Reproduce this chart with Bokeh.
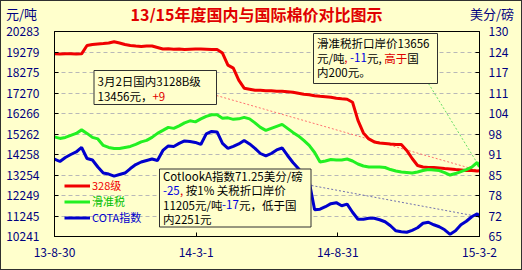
import pandas as pd
from bokeh.plotting import figure
from bokeh.layouts import column
from bokeh.models import (Range1d, LinearAxis, FixedTicker, Label, BoxAnnotation,
                          Legend, LegendItem, ColumnDataSource, Div)
from bokeh.embed import file_html
from bokeh.resources import INLINE

# ---------------- data ----------------
week_dates = list(pd.date_range("2013-08-30", periods=79, freq="7D")) + [pd.Timestamp("2015-03-02")]

red_328 = [19190, 19185, 19195, 19190, 19180, 19190, 19595, 19644, 19669, 19693,
           19718, 19782, 19718, 19644, 19595, 19570, 19546, 19570, 19570, 19497,
           19423, 19440, 19410, 19423, 19400, 19415, 19430, 19420, 19410, 19400,
           19398, 19226, 18636, 18488, 17898, 17505, 17456, 17407, 17407, 17382,
           17382, 17358, 17358, 17333, 17308, 17259, 17210, 17185, 17136, 17111,
           17087, 17062, 17013, 16988, 16964, 16816, 15931, 15316, 15021, 14874,
           14825, 14800, 14775, 14751, 14751, 14456, 14062, 13718, 13644, 13620,
           13620, 13595, 13570, 13546, 13521, 13497, 13472, 13472, 13447, 13456]

green_slide = [15120, 15046, 15095, 15193, 15292, 15464, 15292, 15095, 15021, 14702,
               14603, 14554, 14554, 14603, 14652, 14751, 14874, 14948, 15095, 15292,
               15439, 15587, 15538, 15661, 15808, 15907, 15857, 16005, 16128, 16202,
               16202, 16030, 16054, 15980, 16005, 16079, 16005, 15808, 15587, 15439,
               15538, 15636, 15734, 15538, 15341, 15169, 14948, 14702, 14357, 13890,
               13939, 14013, 13989, 13989, 14038, 13939, 13792, 13693, 13644, 13644,
               13644, 13620, 13521, 13448, 13398, 13374, 13349, 13398, 13472, 13521,
               13497, 13472, 13374, 13251, 13325, 13423, 13521, 13644, 13866, 13656]

blue_cota = [89.57, 88.78, 90.05, 91.00, 91.80, 93.23, 89.73, 89.25, 87.03, 85.12,
             84.80, 84.16, 84.64, 85.12, 86.55, 87.82, 88.62, 89.10, 89.57, 89.10,
             92.28, 93.71, 93.55, 94.51, 95.30, 95.14, 94.82, 94.19, 97.53, 98.33,
             98.17, 94.51, 92.92, 93.55, 94.35, 95.46, 94.35, 92.92, 91.32, 90.53,
             91.32, 92.44, 93.07, 90.69, 88.46, 86.55, 84.32, 82.41, 73.50, 73.66,
             74.45, 75.41, 75.73, 74.77, 75.25, 72.70, 70.47, 70.47, 70.79, 70.79,
             70.32, 69.68, 68.41, 66.81, 66.50, 66.34, 66.97, 67.77, 69.20, 69.52,
             68.72, 68.09, 67.13, 65.70, 66.81, 68.72, 69.84, 71.27, 72.23, 71.25]

left_tick_labels = ["10241", "11245", "12249", "13254", "14258", "15262",
                    "16266", "17270", "18275", "19279", "20283"]
right_tick_labels = ["65", "72", "78", "85", "91", "98", "104", "111", "117", "124", "130"]
x_tick_dates = ["2013-08-30", "2014-03-01", "2014-08-31", "2015-03-02"]
x_tick_labels = ["13-8-30", "14-3-1", "14-8-31", "15-3-2"]

series_names = ["328级", "滑准税", "COTA指数"]
title_text = "13/15年度国内与国际棉价对比图示"
left_unit = "元/吨"
right_unit = "美分/磅"

# ---------------- layout / style ----------------
FONT = "Noto Sans CJK SC"
BG = "#FFFFCC"
RED = "#F00000"
GREEN = "#22F022"
BLUE = "#0000CC"
NAVY = "#000080"

start = pd.Timestamp("2013-08-30")
days = [(d - start).days for d in week_dates]
X_END = (pd.Timestamp(x_tick_dates[-1]) - start).days
L_MIN, L_MAX = float(left_tick_labels[0]), float(left_tick_labels[-1])
R_MIN, R_MAX = float(right_tick_labels[0]), float(right_tick_labels[-1])

# frame position in page pixels
FL, FR, FT, FB = 54, 479, 31, 236
HEAD_H = 21          # header strip (page y 1..22)
TOP = 1 + HEAD_H     # page y of the figure canvas top


def xd(px):
    return (px - FL) * X_END / (FR - FL)


def yd(py):
    return L_MIN + (FB - py) * (L_MAX - L_MIN) / (FB - FT)


def ud(py):
    return R_MIN + (FB - py) * (R_MAX - R_MIN) / (FB - FT)


CW, CH = 520, 268 - HEAD_H
p = figure(width=CW, height=CH, x_range=Range1d(0, X_END), y_range=Range1d(L_MIN, L_MAX),
           output_backend="svg", toolbar_location=None,
           min_border_left=FL - 1, min_border_right=CW - (FR - 1),
           min_border_top=FT - TOP, min_border_bottom=CH - (FB - TOP),
           background_fill_color=BG, border_fill_color=BG,
           outline_line_color="black", outline_line_width=1)
p.extra_y_ranges = {"usd": Range1d(R_MIN, R_MAX)}

left_ticks = [L_MIN + k * (L_MAX - L_MIN) / 10 for k in range(11)]
right_ticks = [R_MIN + k * (R_MAX - R_MIN) / 10 for k in range(11)]
x_ticks = [(pd.Timestamp(d) - start).days for d in x_tick_dates]

yax = p.yaxis[0]
yax.ticker = FixedTicker(ticks=left_ticks)
yax.major_label_overrides = {t: s for t, s in zip(left_ticks, left_tick_labels)}
yax.major_label_standoff = 15

xax = p.xaxis[0]
xax.ticker = FixedTicker(ticks=x_ticks)
xax.major_label_overrides = {t: s for t, s in zip(x_ticks, x_tick_labels)}
xax.major_label_standoff = 11

rax = LinearAxis(y_range_name="usd", ticker=FixedTicker(ticks=right_ticks),
                 major_label_overrides={t: s for t, s in zip(right_ticks, right_tick_labels)},
                 major_label_standoff=9)
p.add_layout(rax, "right")

for ax in (yax, xax, rax):
    ax.major_tick_in = 4
    ax.major_tick_out = 0
    ax.minor_tick_line_color = None
    ax.axis_line_color = "black"
    ax.major_tick_line_color = "black"
    ax.major_label_text_color = NAVY
    ax.major_label_text_font = FONT
    ax.major_label_text_font_size = "12px"

p.ygrid.ticker = FixedTicker(ticks=left_ticks[1:-1])
p.ygrid.grid_line_color = "#B8B8B8"
p.ygrid.grid_line_dash = "4 3"
p.xgrid.visible = False

src = ColumnDataSource(dict(day=days, red=red_328, green=green_slide, blue=blue_cota))

# connectors from the note boxes to the latest values
p.line([xd(216), days[-1]], [yd(95), red_328[-1]], line_color="#FF7070",
       line_dash="2 2", line_width=1)
p.line([xd(428), days[-1]], [yd(83), green_slide[-1]], line_color="#66DD66",
       line_dash="2 2", line_width=1)
p.line([xd(311), days[-1]], [ud(185), blue_cota[-1]], line_color="#7070B0",
       line_dash="2 2", line_width=1, y_range_name="usd")

r_red = p.line("day", "red", source=src, line_color=RED, line_width=3)
r_green = p.line("day", "green", source=src, line_color=GREEN, line_width=3)
r_blue = p.line("day", "blue", source=src, line_color=BLUE, line_width=3, y_range_name="usd")

# legends (one per series so each label keeps its colour)
for name, rend, col, yloc in zip(series_names, (r_red, r_green, r_blue),
                                 (RED, "#00C000", BLUE), (43, 27, 11)):
    lg = Legend(items=[LegendItem(label=name, renderers=[rend])], location=(10, yloc),
                padding=0, margin=0, spacing=0, glyph_width=26, glyph_height=13,
                label_height=13, label_standoff=2, border_line_alpha=0,
                background_fill_alpha=0, label_text_font=FONT,
                label_text_font_size="11px", label_text_color=col,
                label_text_line_height=1.0)
    p.add_layout(lg)

NOTE_FS = 11.5


def tw(s, fs=NOTE_FS):
    w = 0.0
    for ch in s:
        if ord(ch) > 0x2000:
            w += fs
        elif ch in ",.":
            w += 0.25 * fs
        elif ch in "-/":
            w += 0.36 * fs
        elif ch == " ":
            w += 0.25 * fs
        elif ch == "%":
            w += 0.85 * fs
        elif ch.isdigit() or ch == "+":
            w += 0.555 * fs
        elif ch in "ltij":
            w += 0.3 * fs
        else:
            w += 0.58 * fs
    return w


def note(box, lines):
    l, t, r, b = box
    p.add_layout(BoxAnnotation(left=xd(l), right=xd(r), top=yd(t), bottom=yd(b),
                               fill_color=BG, fill_alpha=1, line_color="#303030",
                               line_width=1, line_alpha=1))
    for py, segs in lines:
        px = l + 3.5
        for text, col, gap in segs:
            px += gap
            p.add_layout(Label(x=xd(px), y=yd(py), text=text, text_color=col,
                               text_font=FONT, text_font_size=f"{NOTE_FS}px",
                               text_align="left", text_baseline="middle"))
            px += tw(text)


K = "#000000"
NR = "#E00000"
NB = "#0000E0"
note((93.5, 70, 216, 104), [
    (80, [("3月2日国内3128B级", K, 0)]),
    (95.5, [("13456元，", K, 0), ("+9", NR, 0)]),
])
note((313, 33, 437, 83), [
    (42, [("滑准税折口岸价13656", K, 0)]),
    (57, [("元/吨", K, 0), (",", NR, 0), ("-11", NB, 3), ("元,", K, 0),
          ("高于", NR, 3), ("国", K, 0)]),
    (71.5, [("内200元。", K, 0)]),
])
note((159, 168.5, 310.5, 226.5), [
    (175, [("CotlookA指数71.25美分/磅", K, 0)]),
    (189.5, [("-25", NB, 0), (",", NR, 0), ("按1% 关税折口岸价", K, 3)]),
    (204, [("11205元/吨", K, 0), ("-17", NB, 0), ("元，低于国", K, 0)]),
    (218.5, [("内2251元", K, 0)]),
])

# header strip with title and unit captions
span = "position:absolute;white-space:nowrap;line-height:1;"
header_html = (
    f'<div style="position:relative;width:520px;height:{HEAD_H}px;'
    f'font-family:\'{FONT}\';background:{BG};">'
    f'<span style="{span}left:5px;top:6px;font-size:13px;color:{NAVY};">{left_unit}</span>'
    f'<span style="{span}left:0px;width:511px;text-align:center;top:5px;font-size:16px;'
    f'font-weight:bold;color:#E00000;">{title_text}</span>'
    f'<span style="{span}left:469px;top:6px;font-size:13px;color:{NAVY};">{right_unit}</span>'
    '</div>'
)
header = Div(text=header_html, width=CW, height=HEAD_H, margin=0,
             styles={"background-color": BG})

page = column(header, p, spacing=0,
              styles={"border": "1px solid #303030", "background-color": BG})

open("out.html", "w").write(file_html(page, INLINE))
